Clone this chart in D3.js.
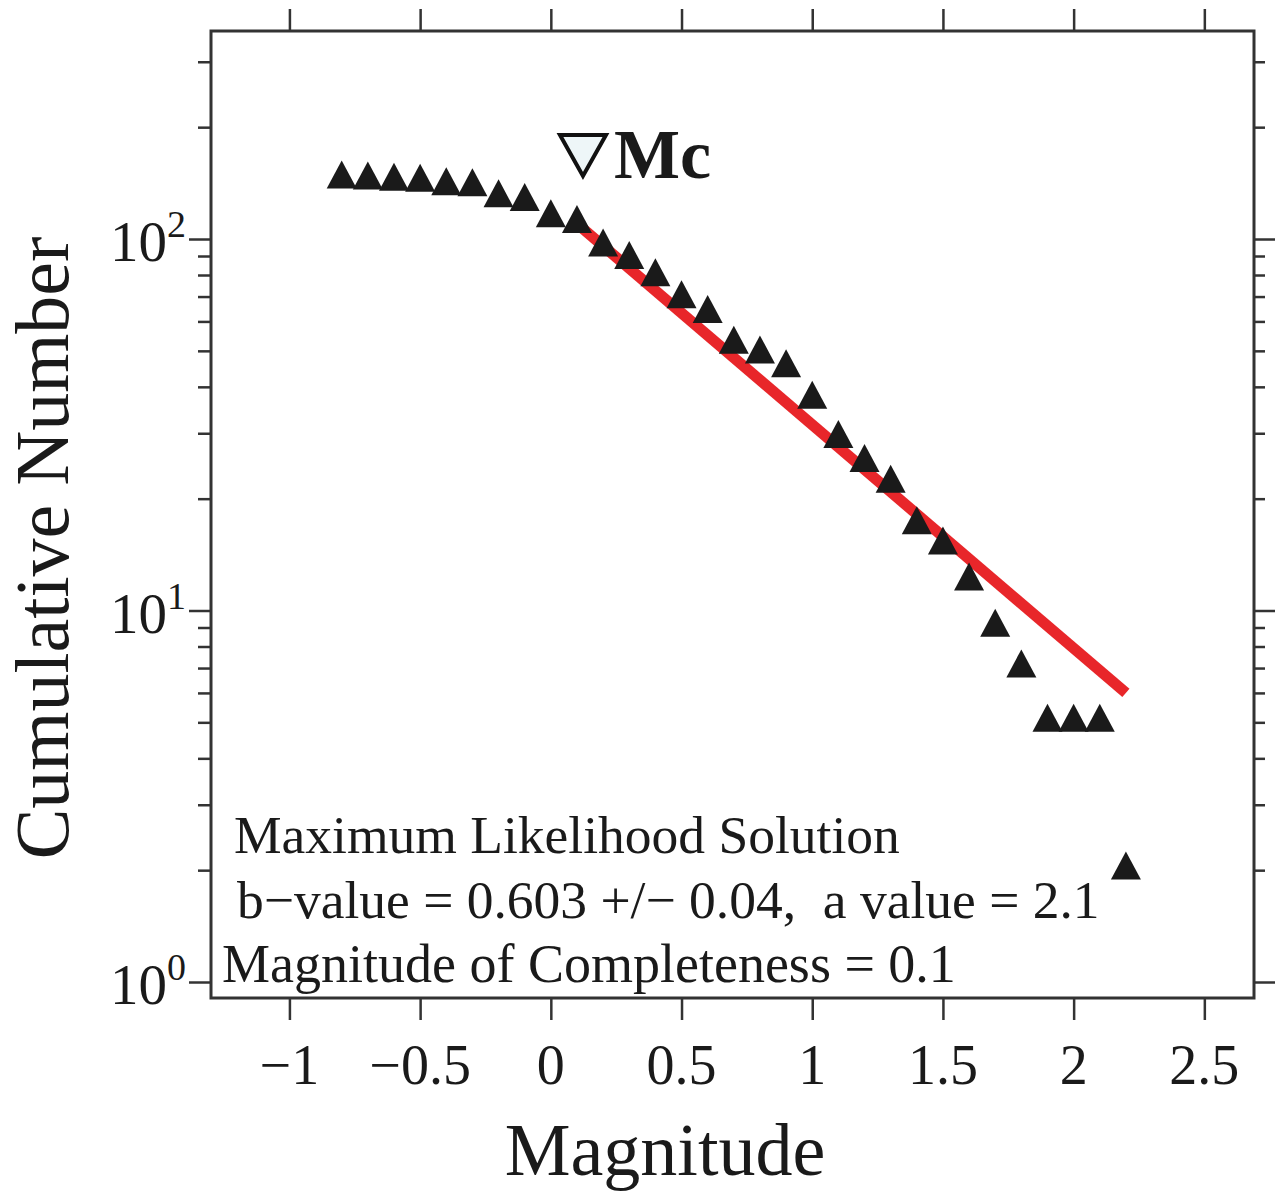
<!DOCTYPE html>
<html><head><meta charset="utf-8">
<script src="https://cdn.jsdelivr.net/npm/d3@7"></script>
<style>
html,body{margin:0;padding:0;background:#fff;}
text{font-family:"Liberation Serif","Times New Roman",serif;fill:#1a1a1a;white-space:pre;}
</style></head>
<body>
<svg id="chart" width="1276" height="1191"></svg>
<script>
// ---- data ----
const magnitudes = [-0.8,-0.7,-0.6,-0.5,-0.4,-0.3,-0.2,-0.1,0.0,0.1,0.2,0.3,0.4,0.5,0.6,0.7,0.8,0.9,1.0,1.1,1.2,1.3,1.4,1.5,1.6,1.7,1.8,1.9,2.0,2.1,2.2];
const cumulativeNumbers = [145,144,143,142,139,138,129,126,114,110,95,88,79,69,63,52,49,45,37,29,25,22,17,15,12,9,7,5,5,5,2];
const fitMagnitudes = [0.1, 2.2];
const fitNumbers = [110, 6.0];
const mcValue = 0.1;
const xTickValues = [-1,-0.5,0,0.5,1,1.5,2,2.5];
const xTickLabels = ["\u22121","\u22120.5","0","0.5","1","1.5","2","2.5"];
const yMajorValues = [1,10,100];
const yMajorExponents = ["0","1","2"];
const yMinorValues = [2,3,4,5,6,7,8,9,20,30,40,50,60,70,80,90,200,300];
const annotationLines = [
  "Maximum Likelihood Solution",
  "b\u2212value = 0.603 +/\u2212 0.04,  a value = 2.1",
  "Magnitude of Completeness = 0.1"
];
const xTitle = "Magnitude";
const yTitle = "Cumulative Number";

// ---- layout ----
const L = 211, R = 1254, T = 31, B = 998;
const svg = d3.select("#chart");
const x = d3.scaleLinear().domain([-1.3, 2.69]).range([L, R]);
const y = d3.scaleLog().domain([0.9056, 363]).range([B, T]);

const frameColor = "#333";

function styleAxis(g){
  g.select(".domain").remove();
  g.selectAll(".tick line").attr("stroke", frameColor).attr("stroke-width", 2.5);
  g.selectAll(".tick text").remove();
}
svg.append("g").attr("transform",`translate(0,${B})`)
  .call(d3.axisBottom(x).tickValues(xTickValues).tickSize(22).tickFormat(""))
  .call(styleAxis);
svg.append("g").attr("transform",`translate(0,${T})`)
  .call(d3.axisTop(x).tickValues(xTickValues).tickSize(22).tickFormat(""))
  .call(styleAxis);
svg.append("g").attr("transform",`translate(${L},0)`)
  .call(d3.axisLeft(y).tickValues(yMajorValues).tickSize(22).tickFormat(""))
  .call(styleAxis);
svg.append("g").attr("transform",`translate(${L},0)`)
  .call(d3.axisLeft(y).tickValues(yMinorValues).tickSize(13).tickFormat(""))
  .call(styleAxis);
svg.append("g").attr("transform",`translate(${R},0)`)
  .call(d3.axisRight(y).tickValues(yMajorValues).tickSize(21).tickFormat(""))
  .call(styleAxis);
svg.append("g").attr("transform",`translate(${R},0)`)
  .call(d3.axisRight(y).tickValues(yMinorValues).tickSize(11).tickFormat(""))
  .call(styleAxis);

// frame
svg.append("rect").attr("x",L).attr("y",T).attr("width",R-L).attr("height",B-T)
  .attr("fill","none").attr("stroke",frameColor).attr("stroke-width",3);

// x tick labels
svg.append("g").selectAll("text").data(xTickValues).join("text")
  .attr("x", d=>x(d)).attr("y", 1084)
  .attr("text-anchor","middle").attr("font-size",56)
  .text((d,i)=>xTickLabels[i]);

// y tick labels 10^n
const yl = svg.append("g").selectAll("text").data(yMajorValues).join("text")
  .attr("x", 186).attr("y", d=>y(d)+22)
  .attr("text-anchor","end").attr("font-size",57);
yl.append("tspan").text("10");
yl.append("tspan").attr("dy",-24).attr("font-size",38).text((d,i)=>yMajorExponents[i]);

// axis titles
svg.append("text").attr("x",665).attr("y",1175).attr("text-anchor","middle")
  .attr("font-size",74).text(xTitle);
svg.append("text").attr("transform","translate(68,548) rotate(-90)")
  .attr("text-anchor","middle").attr("font-size",76).text(yTitle);

// fit line
svg.append("line")
  .attr("x1",x(fitMagnitudes[0])).attr("y1",y(fitNumbers[0]))
  .attr("x2",x(fitMagnitudes[1])).attr("y2",y(fitNumbers[1]))
  .attr("stroke","#e8262a").attr("stroke-width",11);

// data triangles (centroid at data point)
const th = 28, tw = 30;
const triPath = `M0,${-2*th/3}L${tw/2},${th/3}L${-tw/2},${th/3}Z`;
svg.append("g").selectAll("path").data(magnitudes).join("path")
  .attr("d", triPath)
  .attr("transform",(d,i)=>`translate(${x(d)},${y(cumulativeNumbers[i])})`)
  .attr("fill","#1a1a1a");

// Mc marker
const mcX = x(mcValue) + 6;
svg.append("path")
  .attr("d", `M${mcX-23},135L${mcX+23},135L${mcX},176Z`)
  .attr("fill","#eef6f8").attr("stroke","#111").attr("stroke-width",4)
  .attr("stroke-linejoin","miter");
svg.append("text").attr("x", mcX+31).attr("y",178)
  .attr("font-size",70).attr("font-weight","bold").text("Mc");

// annotation
const annX = [234, 237, 222];
const annY = [853, 918, 982];
const annSize = [53.5, 53.5, 54];
svg.append("g").selectAll("text").data(annotationLines).join("text")
  .attr("x",(d,i)=>annX[i]).attr("y",(d,i)=>annY[i])
  .attr("font-size",(d,i)=>annSize[i]).text(d=>d);
</script>
</body></html>
